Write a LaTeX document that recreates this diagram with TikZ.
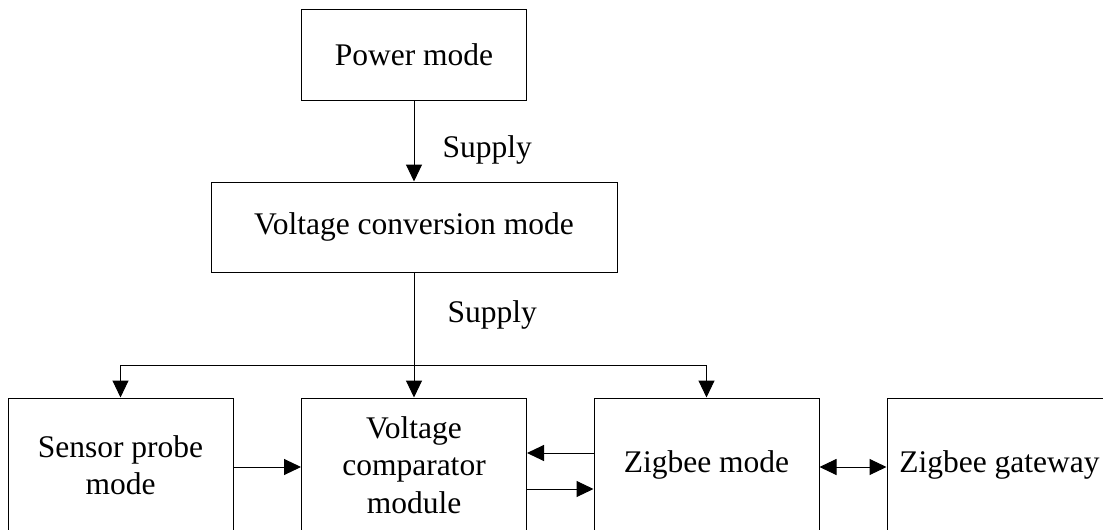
\documentclass[tikz,border=0pt]{standalone}
\usepackage{fontspec}
\setmainfont{Liberation Serif}
\usetikzlibrary{arrows.meta}

\begin{document}
\begin{tikzpicture}[x=1pt,y=-1pt,line width=1pt,
  box/.style={draw,minimum width=225pt,inner sep=0pt,align=center,
    font=\fontsize{31.5}{37.5}\selectfont},
  lbl/.style={anchor=west,inner sep=0pt,font=\fontsize{31.5}{37.5}\selectfont},
  >={Triangle[length=17pt,width=16pt]}]
  \useasboundingbox (0,0) rectangle (1103,530);
  \node[box,minimum height=91pt] (power) at (414,54.5) {Power mode};
  \node[box,minimum width=406pt,minimum height=90pt] (conv) at (414,227) {Voltage conversion mode};
  \node[box,minimum height=134pt] (sensor) at (120.5,465) {Sensor probe\\mode};
  \node[box,minimum height=134pt] (comp) at (414,465) {Voltage\\comparator\\module};
  \node[box,minimum height=134pt] (zig) at (706.5,465) {Zigbee mode};
  \node[box,minimum height=134pt] (gate) at (999.5,465) {Zigbee gateway};
  \node[lbl] (sup1) at (442,150) {Supply};
  \node[lbl] (sup2) at (447,315) {Supply};
  \coordinate (split) at (414,365);
  \draw[->] (power) -- (conv);
  \draw (conv) -- (split);
  \draw[->] (split) -- (comp);
  \draw[->] (split) -| (sensor);
  \draw[->] (split) -| (zig);
  \draw[->] ([yshift=-2pt]sensor.east) -- ([yshift=-2pt]comp.west);
  \draw[->] ([yshift=12pt]zig.west) -- ([yshift=12pt]comp.east);
  \draw[->] ([yshift=-24pt]comp.east) -- ([yshift=-24pt]zig.west);
  \draw[<->] ([yshift=-2pt]zig.east) -- ([yshift=-2pt]gate.west);
\end{tikzpicture}
\end{document}
